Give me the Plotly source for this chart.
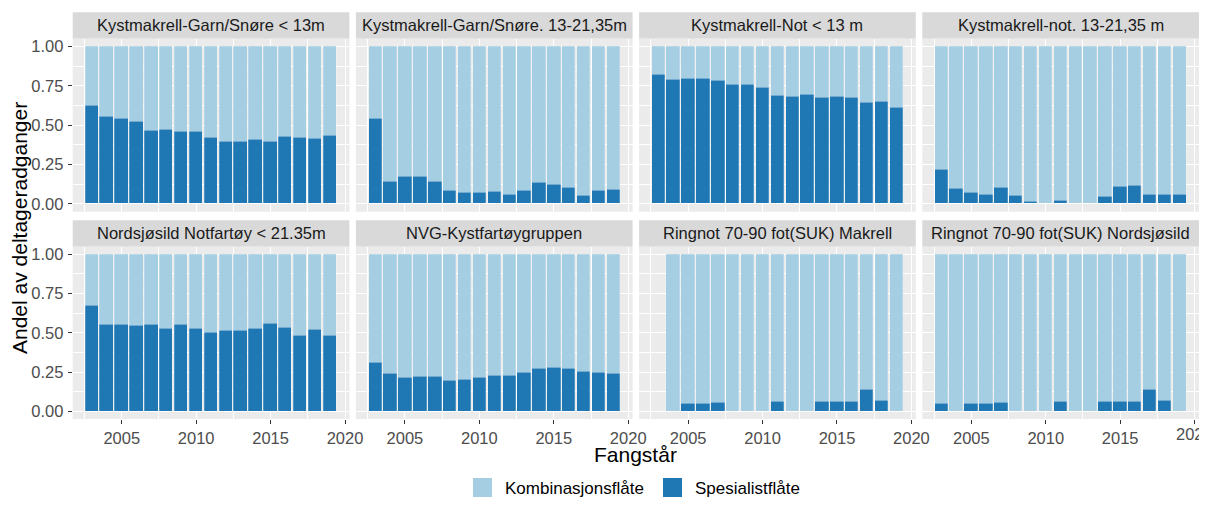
import plotly.graph_objects as go

# ------------------------------------------------------------
# DATA
# ------------------------------------------------------------

years = list(range(2003, 2020))

panels = [
    "Kystmakrell-Garn/Snøre < 13m",
    "Kystmakrell-Garn/Snøre. 13-21,35m",
    "Kystmakrell-Not < 13 m",
    "Kystmakrell-not. 13-21,35 m",
    "Nordsjøsild Notfartøy < 21.35m",
    "NVG-Kystfartøygruppen",
    "Ringnot 70-90 fot(SUK) Makrell",
    "Ringnot 70-90 fot(SUK) Nordsjøsild",
]

# share "Spesialistflåte" per year (rest is "Kombinasjonsflåte")
spes_garn_u13 = [0.625, 0.557, 0.540, 0.525, 0.468, 0.475, 0.458, 0.458, 0.424,
                 0.394, 0.394, 0.411, 0.394, 0.428, 0.424, 0.417, 0.434]
spes_garn_13_21 = [0.540, 0.144, 0.174, 0.174, 0.140, 0.083, 0.072, 0.072, 0.076,
                   0.059, 0.083, 0.133, 0.123, 0.106, 0.055, 0.083, 0.089]
spes_not_u13 = [0.820, 0.790, 0.794, 0.794, 0.784, 0.756, 0.756, 0.739, 0.689,
                0.682, 0.693, 0.676, 0.682, 0.676, 0.642, 0.653, 0.614]
spes_not_13_21 = [0.220, 0.095, 0.074, 0.061, 0.102, 0.051, 0.015, 0.0, 0.021,
                  0.0, 0.0, 0.044, 0.108, 0.114, 0.057, 0.061, 0.061]
spes_nordsjo = [0.673, 0.554, 0.550, 0.544, 0.550, 0.529, 0.550, 0.527, 0.499,
                0.514, 0.514, 0.527, 0.561, 0.533, 0.486, 0.522, 0.486]
spes_nvg = [0.312, 0.238, 0.217, 0.221, 0.221, 0.193, 0.200, 0.217, 0.231,
            0.227, 0.244, 0.274, 0.282, 0.274, 0.251, 0.244, 0.238]
spes_ringnot_mak = [None, 0.0, 0.051, 0.051, 0.057, 0.0, 0.0, 0.0, 0.064,
                    0.0, 0.0, 0.064, 0.064, 0.064, 0.136, 0.068, 0.0]
spes_ringnot_sild = [0.051, 0.0, 0.051, 0.051, 0.057, 0.0, 0.0, 0.0, 0.064,
                     0.0, 0.0, 0.064, 0.064, 0.064, 0.136, 0.068, 0.0]

spes_all = [spes_garn_u13, spes_garn_13_21, spes_not_u13, spes_not_13_21,
            spes_nordsjo, spes_nvg, spes_ringnot_mak, spes_ringnot_sild]

legend_labels = ["Kombinasjonsflåte", "Spesialistflåte"]

y_ticks = [0, 0.25, 0.5, 0.75, 1.0]
x_ticks = [2005, 2010, 2015, 2020]

# ------------------------------------------------------------
# LAYOUT GEOMETRY
# positions below are window pixels; the page body keeps its 8px
# margin, so the figure is 16px smaller and everything is shifted
# ------------------------------------------------------------

OFF = 8
W, H = 1207 - 2 * OFF, 505 - 2 * OFF


def px(x):
    return min(max((x - OFF) / W, 0.0), 1.0)


def py(y):
    return min(max(1 - (y - OFF) / H, 0.0), 1.0)


col_left = [72.7, 355.9, 639.1, 922.3]
panel_w = 276.7
rows = [  # (strip_top, panel_top, panel_bottom)
    (12.3, 38.5, 211.8),
    (220.3, 246.5, 419.1),
]

KOMB = "#A6CEE3"
SPES = "#1F78B4"
FONT = "Liberation Sans, Arial, sans-serif"
TXT = 16.5

fig = go.Figure()
shapes = []
annotations = []

for i, name in enumerate(panels):
    r, c = divmod(i, 4)
    n = i + 1
    xa = "x" if n == 1 else f"x{n}"
    ya = "y" if n == 1 else f"y{n}"
    spes = spes_all[i]
    komb = [None if v is None else 1 - v for v in spes]

    fig.add_trace(go.Bar(
        x=years, y=spes, xaxis=xa, yaxis=ya, name=legend_labels[1],
        marker=dict(color=SPES, line=dict(color="rgba(255,255,255,0.35)", width=0.6)),
        width=0.9, showlegend=False,
    ))
    fig.add_trace(go.Bar(
        x=years, y=komb, xaxis=xa, yaxis=ya, name=legend_labels[0],
        marker=dict(color=KOMB, line=dict(color="rgba(255,255,255,0.35)", width=0.6)),
        width=0.9, showlegend=False,
    ))

    strip_top, p_top, p_bot = rows[r]
    x0, x1 = px(col_left[c]), px(col_left[c] + panel_w)
    y0, y1 = py(p_bot), py(p_top)

    xkey = "xaxis" if n == 1 else f"xaxis{n}"
    ykey = "yaxis" if n == 1 else f"yaxis{n}"
    fig.layout[xkey] = dict(
        domain=[x0, x1], anchor=ya, range=[2001.705, 2020.295],
        tickvals=x_ticks, showticklabels=(r == 1),
        ticks="outside" if r == 1 else "", ticklen=4, tickcolor="#333333",
        tickfont=dict(size=TXT, color="#4D4D4D"), ticklabelstandoff=0,
        showgrid=True, gridcolor="white", gridwidth=1.4, zeroline=False,
        minor=dict(tickvals=[2002.5, 2007.5, 2012.5, 2017.5], showgrid=True,
                   gridcolor="white", gridwidth=0.7),
        showline=False, fixedrange=True, automargin=False,
    )
    fig.layout[ykey] = dict(
        domain=[y0, y1], anchor=xa, range=[-0.05, 1.05],
        tickvals=y_ticks, ticktext=[f"{v:.2f}" for v in y_ticks],
        showticklabels=(c == 0),
        ticks="outside" if c == 0 else "", ticklen=4, tickcolor="#333333",
        tickfont=dict(size=TXT, color="#4D4D4D"), ticklabelstandoff=1,
        showgrid=True, gridcolor="white", gridwidth=1.4, zeroline=False,
        minor=dict(tickvals=[0.125, 0.375, 0.625, 0.875], showgrid=True,
                   gridcolor="white", gridwidth=0.7),
        showline=False, fixedrange=True, automargin=False,
    )

    # panel background
    shapes.append(dict(type="rect", xref="paper", yref="paper",
                       x0=x0, x1=x1, y0=y0, y1=y1,
                       fillcolor="#EBEBEB", line=dict(width=0), layer="below"))
    # strip
    shapes.append(dict(type="rect", xref="paper", yref="paper",
                       x0=x0, x1=x1, y0=py(p_top), y1=py(strip_top),
                       fillcolor="#D9D9D9", line=dict(width=0), layer="below"))
    annotations.append(dict(
        text=name, xref="paper", yref="paper",
        x=(x0 + x1) / 2, y=py((strip_top + p_top) / 2),
        xanchor="center", yanchor="middle", showarrow=False,
        font=dict(size=TXT, color="#1A1A1A", family=FONT),
    ))

# last tick label of the bottom-right panel runs off the edge (as in ggplot)
annotations.append(dict(
    text=str(x_ticks[-1]), xref="x8", yref="paper",
    x=x_ticks[-1], y=py(rows[1][2] + 4), xanchor="center", yanchor="top",
    showarrow=False, font=dict(size=TXT, color="#4D4D4D", family=FONT),
))

# axis titles
annotations.append(dict(
    text="Andel av deltageradganger", xref="paper", yref="paper",
    x=px(20), y=py(228), textangle=-90, showarrow=False,
    xanchor="center", yanchor="middle",
    font=dict(size=21, color="black", family=FONT),
))
annotations.append(dict(
    text="Fangstår", xref="paper", yref="paper",
    x=px((col_left[0] + col_left[3] + panel_w) / 2), y=py(454),
    showarrow=False, xanchor="center", yanchor="middle",
    font=dict(size=21, color="black", family=FONT),
))

# legend (drawn like ggplot's bottom legend: square keys + labels)
key_x = [473, 663]
key_colors = [KOMB, SPES]
for kx, kc, lab in zip(key_x, key_colors, legend_labels):
    shapes.append(dict(type="rect", xref="paper", yref="paper",
                       x0=px(kx), x1=px(kx + 19),
                       y0=py(497), y1=py(478),
                       fillcolor=kc, line=dict(width=0)))
    annotations.append(dict(
        text=lab, xref="paper", yref="paper",
        x=px(kx + 30), y=py(488), xanchor="left", yanchor="middle",
        showarrow=False, font=dict(size=17, color="black", family=FONT),
    ))

fig.update_layout(
    width=W, height=H, autosize=False,
    margin=dict(l=0, r=0, t=0, b=0),
    barmode="stack", bargap=0,
    paper_bgcolor="white", plot_bgcolor="rgba(0,0,0,0)",
    font=dict(family=FONT),
    shapes=shapes, annotations=annotations,
    showlegend=False,
)

fig.write_html("out.html", config={"displayModeBar": False})
